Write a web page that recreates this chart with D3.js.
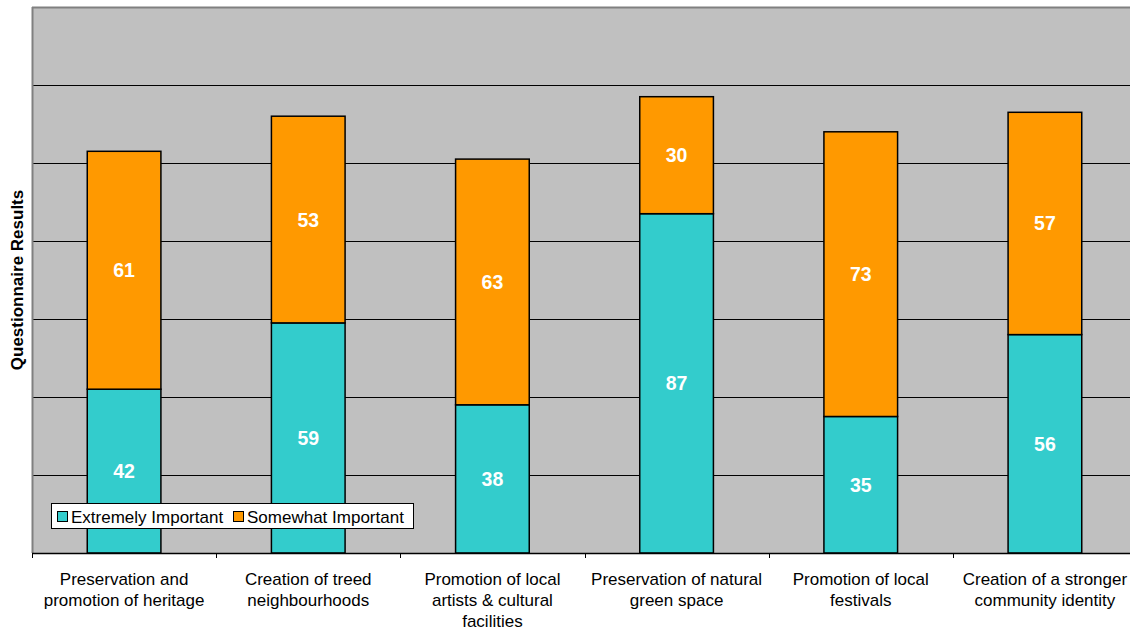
<!DOCTYPE html>
<html>
<head>
<meta charset="utf-8">
<script src="https://cdn.jsdelivr.net/npm/d3@7"></script>
<style>
  html, body { margin: 0; padding: 0; background: #ffffff; }
  svg { display: block; font-family: "Liberation Sans", Arial, sans-serif; }
</style>
</head>
<body>
<svg id="chart" width="1130" height="632"></svg>
<script>
// Survey categories (label lines) and stacked responses
const categories = [
  ["Preservation and", "promotion of heritage"],
  ["Creation of treed", "neighbourhoods"],
  ["Promotion of local", "artists & cultural", "facilities"],
  ["Preservation of natural", "green space"],
  ["Promotion of local", "festivals"],
  ["Creation of a stronger", "community identity"]
];
const extremelyImportant = [42, 59, 38, 87, 35, 56];
const somewhatImportant = [61, 53, 63, 30, 73, 57];
const seriesNames = ["Extremely Important", "Somewhat Important"];
const seriesColors = ["#33cccc", "#ff9900"];
const yTicks = [0, 20, 40, 60, 80, 100, 120, 140];

const svg = d3.select("#chart");
const margin = { left: 32, top: 7, right: -7, bottom: 79 };
const W = 1130, H = 632;
const x0 = margin.left, x1 = W - margin.right;
const y0 = margin.top, y1 = H - margin.bottom;

const keys = categories.map(c => c.join(" "));
const x = d3.scaleBand().domain(keys).range([x0, x1]).paddingInner(0.6).paddingOuter(0.3);
const y = d3.scaleLinear().domain([0, 140]).range([y1, y0]);

// plot background
svg.append("rect").attr("x", x0).attr("y", y0).attr("width", x1 - x0).attr("height", y1 - y0)
  .attr("fill", "#c0c0c0");

// horizontal gridlines
svg.append("g").selectAll("line").data(yTicks.filter(t => t > 0 && t < 140)).join("line")
  .attr("x1", x0).attr("x2", x1)
  .attr("y1", d => Math.round(y(d)) + 0.5).attr("y2", d => Math.round(y(d)) + 0.5)
  .attr("stroke", "#000").attr("stroke-width", 1);

// plot frame (top + left)
svg.append("line").attr("x1", x0).attr("x2", x1).attr("y1", y0 + 0.5).attr("y2", y0 + 0.5)
  .attr("stroke", "#808080").attr("stroke-width", 2);
svg.append("line").attr("x1", x0 + 0.5).attr("x2", x0 + 0.5).attr("y1", y0).attr("y2", y1)
  .attr("stroke", "#808080").attr("stroke-width", 2);

// stacked bars
const rows = keys.map((k, i) => ({ key: k, v: [extremelyImportant[i], somewhatImportant[i]] }));
const stacked = seriesNames.map((name, s) => rows.map(r => {
  const base = d3.sum(r.v.slice(0, s));
  return { key: r.key, lo: base, hi: base + r.v[s], value: r.v[s] };
}));

stacked.forEach((layer, s) => {
  const g = svg.append("g");
  g.selectAll("rect").data(layer).join("rect")
    .attr("x", d => x(d.key)).attr("width", x.bandwidth())
    .attr("y", d => y(d.hi)).attr("height", d => y(d.lo) - y(d.hi))
    .attr("fill", seriesColors[s]).attr("stroke", "#000").attr("stroke-width", 1.5);
  g.selectAll("text").data(layer).join("text")
    .attr("x", d => x(d.key) + x.bandwidth() / 2)
    .attr("y", d => (y(d.lo) + y(d.hi)) / 2)
    .attr("dy", "0.36em").attr("text-anchor", "middle")
    .attr("fill", "#fff").attr("font-weight", "bold").attr("font-size", 19.5)
    .text(d => d.value);
});

// category axis
const axisG = svg.append("g");
axisG.append("line").attr("x1", x0).attr("x2", x1).attr("y1", y1 + 0.5).attr("y2", y1 + 0.5)
  .attr("stroke", "#000").attr("stroke-width", 1.5);
const step = x.step();
const bounds = keys.map((k, i) => x0 + i * step).concat([x1]);
axisG.selectAll("line.tick").data(bounds).join("line").attr("class", "tick")
  .attr("x1", d => Math.round(d) + 0.5).attr("x2", d => Math.round(d) + 0.5)
  .attr("y1", y1).attr("y2", y1 + 5).attr("stroke", "#000");
axisG.selectAll("text").data(categories).join("text")
  .attr("text-anchor", "middle").attr("font-size", 17).attr("fill", "#000")
  .each(function(lines, i) {
    const t = d3.select(this);
    const cx = x(keys[i]) + x.bandwidth() / 2;
    lines.forEach((ln, j) => {
      t.append("tspan").attr("x", cx).attr("y", 585 + j * 21).text(ln);
    });
  });

// y-axis title
svg.append("text").attr("transform", `translate(23,${(y0 + y1) / 2}) rotate(-90)`)
  .attr("text-anchor", "middle").attr("font-weight", "bold").attr("font-size", 17)
  .text("Questionnaire Results");

// legend
const lg = svg.append("g");
lg.append("rect").attr("x", 51.5).attr("y", 503.5).attr("width", 362).attr("height", 25)
  .attr("fill", "#fff").attr("stroke", "#000");
const legendX = [57, 233];
seriesNames.forEach((name, s) => {
  lg.append("rect").attr("x", legendX[s] + 0.5).attr("y", 511.5).attr("width", 10).attr("height", 10)
    .attr("fill", seriesColors[s]).attr("stroke", "#000");
  lg.append("text").attr("x", legendX[s] + 14).attr("y", 522.5).attr("font-size", 17).text(name);
});
</script>
</body>
</html>
